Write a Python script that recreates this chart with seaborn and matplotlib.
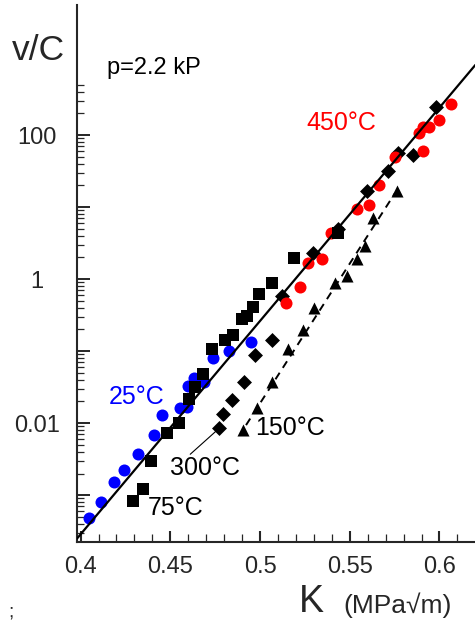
import numpy as np
import pandas as pd
import matplotlib
matplotlib.use("Agg")
import matplotlib.pyplot as plt
import seaborn as sns
from matplotlib.ticker import FixedLocator, FixedFormatter

# ---- data ----
K_25 = [0.4047, 0.4114, 0.4185, 0.4241, 0.4319, 0.4409, 0.4454, 0.4554, 0.4595, 0.4597,
        0.4634, 0.4688, 0.4736, 0.4829, 0.4950]
v_25 = [4.84e-4, 8.07e-4, 1.53e-3, 2.25e-3, 3.75e-3, 6.75e-3, 1.31e-2, 1.63e-2, 1.67e-2, 3.27e-2,
        4.22e-2, 3.72e-2, 7.94e-2, 0.101, 0.132]

K_75 = [0.4291, 0.4346, 0.4393, 0.4484, 0.4549, 0.4606, 0.4638, 0.4681, 0.4731, 0.4805,
        0.4848, 0.4898, 0.4926, 0.4959, 0.4996, 0.5065, 0.5189, 0.5436]
v_75 = [8.34e-4, 1.20e-3, 2.96e-3, 7.41e-3, 1.02e-2, 2.20e-2, 3.20e-2, 4.74e-2, 0.107, 0.141,
        0.166, 0.275, 0.306, 0.413, 0.612, 0.871, 1.98, 4.32]

K_150 = [0.4907, 0.4982, 0.5065, 0.5158, 0.5241, 0.5303, 0.5418, 0.5483, 0.5539, 0.5585,
         0.5630, 0.5763]
v_150 = [7.94e-3, 1.60e-2, 3.75e-2, 0.107, 0.195, 0.398, 0.871, 1.12, 1.91, 2.88, 7.08, 16.6]

K_300 = [0.4773, 0.4796, 0.4842, 0.4913, 0.4972, 0.5069, 0.5122, 0.5297, 0.5436, 0.5597,
         0.5711, 0.5771, 0.5850, 0.5979]
v_300 = [8.61e-3, 1.32e-2, 2.09e-2, 3.75e-2, 8.79e-2, 0.142, 0.586, 2.28, 4.94, 16.7,
         31.6, 55.7, 52.7, 242]

K_450 = [0.5145, 0.5223, 0.5269, 0.5347, 0.5394, 0.5539, 0.5607, 0.5663, 0.5752, 0.5906,
         0.5888, 0.5910, 0.5943, 0.5999, 0.6064]
v_450 = [0.459, 0.767, 1.65, 1.90, 4.32, 9.29, 10.7, 20.2, 50.0, 60.5,
         108, 131, 131, 161, 267]

fit_K = [0.398, 0.620]
fit_v = [2.5e-4, 940]
fit150_K = [0.4922, 0.5752]
fit150_v = [9.4e-3, 15.6]

x_ticks = [0.4, 0.45, 0.5, 0.55, 0.6]
x_tick_labels = ["0.4", "0.45", "0.5", "0.55", "0.6"]
y_ticks = [1e-3, 1e-2, 1e-1, 1, 10, 100]
y_tick_labels = ["", "0.01", "", "1", "", "100"]

# ---- style ----
sns.set_style("ticks")
plt.rcParams['font.family'] = ['Liberation Sans', 'DejaVu Sans']

fig = plt.figure(figsize=(4.75, 6.28), dpi=100)
ax = fig.add_axes([77/475, 86/628, 1 - 77/475, (542 - 5)/628])

def scat(K, v, color, marker, size, z):
    df = pd.DataFrame({"K": K, "v": v})
    sns.scatterplot(data=df, x="K", y="v", color=color, marker=marker, s=size,
                    linewidth=0, ax=ax, zorder=z, legend=False)

scat(K_150, v_150, "black", "^", 75, 3)
scat(K_300, v_300, "black", "D", 58, 3)
scat(K_450, v_450, "red", "o", 75, 4)
scat(K_25, v_25, "blue", "o", 75, 4)
scat(K_75, v_75, "black", "s", 65, 5)

sns.lineplot(x=fit_K, y=fit_v, color="black", linewidth=1.6, ax=ax, zorder=6)
sns.lineplot(x=fit150_K, y=fit150_v, color="black", linewidth=1.4, ax=ax, zorder=6,
             linestyle=(0, (4, 3)))

ax.set_yscale("log")
ax.set_xlim(0.398, 0.6198)
ax.set_ylim(2.24e-4, 6390)

# ticks
ax.xaxis.set_major_locator(FixedLocator(x_ticks))
ax.xaxis.set_major_formatter(FixedFormatter(x_tick_labels))
ax.xaxis.set_minor_locator(FixedLocator(np.arange(0.40, 0.62, 0.01)))
ax.yaxis.set_major_locator(FixedLocator(y_ticks))
ax.yaxis.set_major_formatter(FixedFormatter(y_tick_labels))
minor_y = [k * 10.0**d for d in range(-4, 2) for k in range(2, 10)] + [200, 300, 400, 500]
minor_y = [m for m in minor_y if m > 2.3e-4]
ax.yaxis.set_minor_locator(FixedLocator(minor_y))
ax.yaxis.set_minor_formatter(FixedFormatter([""] * len(minor_y)))

ax.tick_params(axis="y", which="major", direction="in", length=9.5, width=1.4,
               labelsize=17, pad=29)
ax.tick_params(axis="y", which="minor", direction="in", length=5, width=0.9)
ax.tick_params(axis="x", which="major", direction="in", length=8, width=1.5,
               labelsize=17, pad=10)
ax.tick_params(axis="x", which="minor", direction="in", length=5.5, width=0.9)
for lab in ax.get_yticklabels():
    lab.set_horizontalalignment("center")

for s in ["top", "right"]:
    ax.spines[s].set_visible(False)
for s in ["left", "bottom"]:
    ax.spines[s].set_linewidth(1.5)
ax.set_xlabel("")
ax.set_ylabel("")

# annotations
ax.text(0.4315, 0.023, "25°C", color="blue", fontsize=18, ha="center", va="center")
ax.text(0.4532, 6.6e-4, "75°C", color="black", fontsize=18, ha="center", va="center")
ax.text(0.4694, 2.37e-3, "300°C", color="black", fontsize=18, ha="center", va="center")
ax.text(0.5167, 8.5e-3, "150°C", color="black", fontsize=18, ha="center", va="center")
ax.text(0.5451, 147, "450°C", color="red", fontsize=18, ha="center", va="center")
ax.text(0.441, 851, "p=2.2 kP", color="black", fontsize=17, ha="center", va="center")
ax.annotate("", xy=(0.4761, 8.0e-3), xytext=(0.4611, 3.7e-3),
            arrowprops=dict(arrowstyle="-", color="black", lw=0.8,
                            shrinkA=0, shrinkB=0))

fig.text(12/475, 1 - 50/628, "v/C", fontsize=25.5, ha="left", va="center")
fig.text(311/475, 1 - 602/628, "K", fontsize=27, ha="center", va="center")
fig.text(398/475, 1 - 605/628, "(MPa√m)", fontsize=19, ha="center", va="center",
         family=['Liberation Sans', 'DejaVu Sans'])
fig.text(8/475, 1 - 612/628, ";", fontsize=14, ha="left", va="center")

fig.savefig("out.png", dpi=100)
